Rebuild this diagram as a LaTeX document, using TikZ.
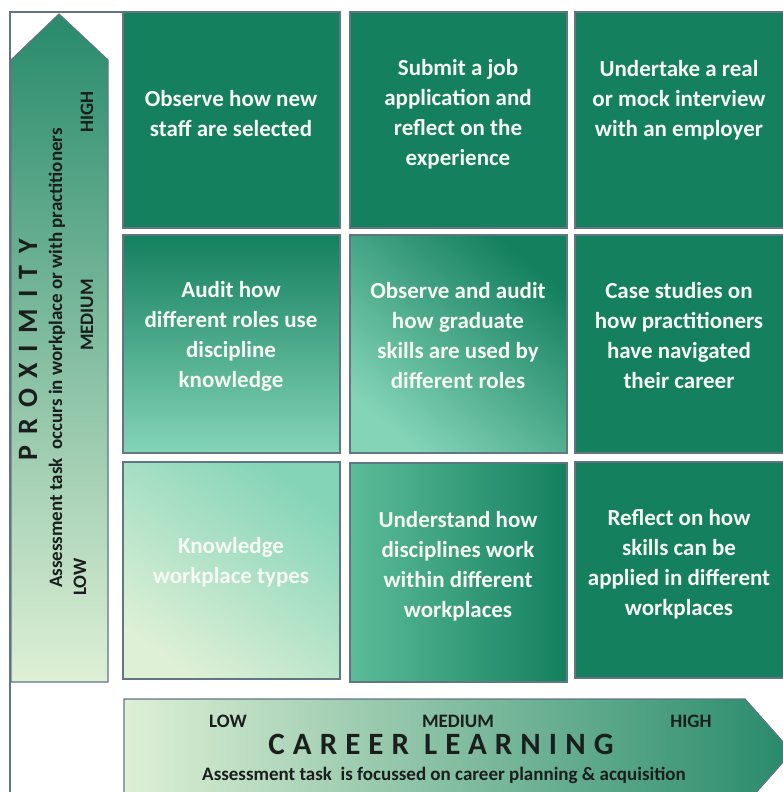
\documentclass[tikz,border=0pt]{standalone}
\usepackage{fontspec}
\setmainfont{Carlito}
\usepackage{tikz}
\usetikzlibrary{positioning}
\definecolor{deepgreen}{RGB}{20,128,94}
\definecolor{midgreen}{RGB}{104,198,164}
\definecolor{lightgreen}{RGB}{132,212,184}
\definecolor{palegreen}{RGB}{222,240,214}
\definecolor{edgegray}{RGB}{96,118,132}
\definecolor{cellwhite}{RGB}{246,249,244}
\definecolor{inkgray}{RGB}{26,30,28}
\tikzstyle{frame} = [draw=edgegray, line width=1.3pt]
\tikzstyle{cell} = [draw=edgegray, line width=1.2pt]
\tikzstyle{dark cell} = [cell, fill=deepgreen]
\tikzstyle{cell text} = [text=cellwhite, align=center,
    font=\fontsize{23}{30}\selectfont\bfseries]
\tikzstyle{axis text} = [text=inkgray, font=\fontsize{19}{22}\selectfont\bfseries]
\tikzstyle{axis title} = [text=inkgray, font=\fontsize{30}{32}\selectfont\bfseries]

\begin{document}
\begin{tikzpicture}[x=1pt, y=-1pt]
            \useasboundingbox (0, 0) rectangle (783, 792);
            \begin{scope}
            \clip (0, 0) rectangle (783, 792);

            \draw [frame] (124, 12) -- (10, 12) -- (10, 800);

            % proximity arrow
            \draw [cell, top color=deepgreen!92!white, middle color=midgreen,
                   bottom color=palegreen]
                  (11, 60) -- (59, 14) -- (108, 60) -- (108, 682) -- (11, 682) -- cycle;

            % career learning arrow
            \draw [cell, left color=palegreen, middle color=midgreen,
                   right color=deepgreen!92!white]
                  (124, 699) -- (745, 699) -- (792, 752) -- (745, 805)
                  -- (124, 805) -- cycle;

            % cells
            \foreach \xa/\xb in {123/340, 350/567, 575/790}
            {
                \draw [dark cell] (\xa, 12) rectangle (\xb, 228);
            }
            \draw [cell, top color=deepgreen, bottom color=lightgreen]
                  (123, 235) rectangle (340, 453);
            \draw [cell, top color=deepgreen, bottom color=lightgreen,
                   shading angle=-40]
                  (350, 235) rectangle (567, 453);
            \draw [dark cell] (575, 235) rectangle (790, 453);
            \draw [cell, top color=lightgreen, middle color=lightgreen,
                   bottom color=palegreen, shading angle=-35]
                  (123, 462) rectangle (340, 679);
            \draw [cell, left color=midgreen!85!deepgreen, right color=deepgreen]
                  (350, 463) rectangle (567, 682);
            \draw [dark cell] (575, 462) rectangle (790, 678);
            \end{scope}

            \node [cell text] (selected) at (231, 114)
                  {Observe how new\\staff are selected};
            \node [cell text] (application) at (458, 114)
                  {Submit a job\\application and\\reflect on the\\experience};
            \node [cell text] (interview) at (679, 100)
                  {Undertake a real\\or mock interview\\with an employer};
            \node [cell text] (audit) at (231, 336)
                  {Audit how\\different roles use\\discipline\\knowledge};
            \node [cell text] (observe) at (458, 336)
                  {Observe and audit\\how graduate\\skills are used by\\different roles};
            \node [cell text] (cases) at (679, 336)
                  {Case studies on\\how practitioners\\have navigated\\their career};
            \node [cell text] (knowledge) at (231, 562)
                  {Knowledge\\workplace types};
            \node [cell text] (disciplines) at (458, 566)
                  {Understand how\\disciplines work\\within different\\workplaces};
            \node [cell text] (reflect) at (679, 564)
                  {Reflect on how\\skills can be\\applied in different\\workplaces};

            % vertical axis
            \node [axis title, rotate=90, font=\fontsize{28}{30}\selectfont\bfseries\addfontfeature{LetterSpace=40}]
                  (proximity) at (28, 350) {PROXIMITY};
            \node [axis text, rotate=90] (proxnote) at (57, 358)
                  {Assessment task\ \ occurs in workplace or with practitioners};
            \node [axis text, rotate=90] (proxhigh) at (87, 112) {HIGH};
            \node [axis text, rotate=90] (proxmedium) at (87, 315) {MEDIUM};
            \node [axis text, rotate=90] (proxlow) at (80, 577) {LOW};

            % horizontal axis
            \node [axis text] (careerlow) at (228, 721) {LOW};
            \node [axis text] (careermedium) at (458, 721) {MEDIUM};
            \node [axis text] (careerhigh) at (691, 721) {HIGH};
            \node [axis title, font=\fontsize{31}{33}\selectfont\bfseries\addfontfeature{LetterSpace=26}]
                  (career) at (441, 744) {CAREER LEARNING};
            \node [axis text] (careernote) at (444, 775)
                  {Assessment task\ \ is focussed on career planning \& acquisition};
        \end{tikzpicture}
\end{document}
